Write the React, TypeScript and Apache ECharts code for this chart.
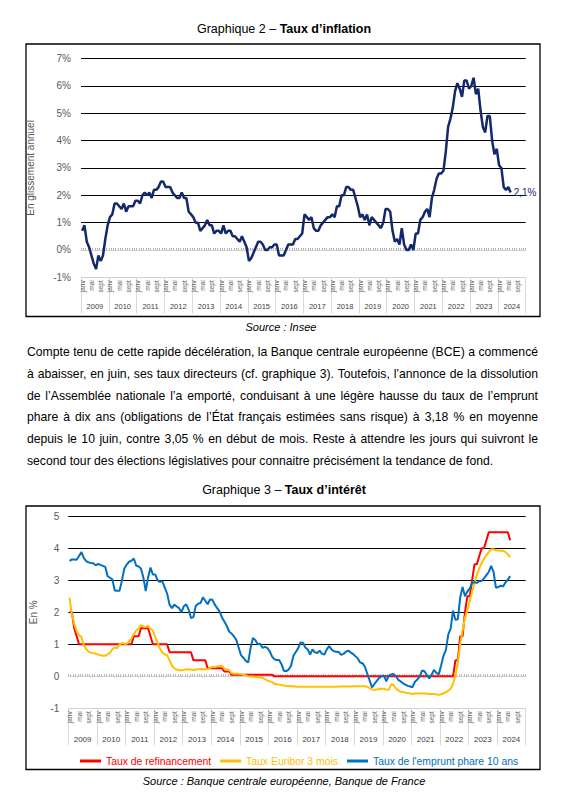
import React, { useEffect, useRef } from "react";
import * as echarts from "echarts";

const YEARS = ["2009","2010","2011","2012","2013","2014","2015","2016","2017","2018","2019","2020","2021","2022","2023","2024"];
const MONTHS = ["janv","févr","mars","avr","mai","juin","juil","août","sept","oct","nov","déc"];
const CATEGORIES = YEARS.flatMap((y) => MONTHS.map((m) => `${m} ${y}`));

// Graphique 2 – inflation (glissement annuel, %), janv 2009 – juin 2024
const INFLATION = [
  0.7, 0.9, 0.3, 0.1, -0.2, -0.5, -0.7, -0.2, -0.4, -0.2, 0.4, 0.9,
  1.2, 1.3, 1.7, 1.7, 1.6, 1.5, 1.7, 1.4, 1.6, 1.6, 1.6, 1.8,
  1.8, 1.7, 2.0, 2.1, 2.0, 2.1, 1.9, 2.2, 2.2, 2.3, 2.5, 2.5,
  2.3, 2.3, 2.3, 2.1, 2.0, 1.9, 1.9, 2.1, 1.9, 1.9, 1.4, 1.3,
  1.2, 1.0, 1.0, 0.7, 0.8, 0.9, 1.1, 0.9, 0.9, 0.6, 0.7, 0.7,
  0.6, 0.9, 0.6, 0.7, 0.7, 0.5, 0.5, 0.4, 0.3, 0.5, 0.3, 0.1,
  -0.4, -0.3, -0.1, 0.1, 0.3, 0.3, 0.2, 0.0, 0.0, 0.1, 0.1, 0.2,
  0.2, -0.2, -0.2, -0.2, 0.0, 0.2, 0.2, 0.2, 0.4, 0.4, 0.5, 0.6,
  1.3, 1.2, 1.1, 1.2, 0.8, 0.7, 0.7, 0.9, 1.0, 1.1, 1.2, 1.2,
  1.3, 1.2, 1.6, 1.6, 2.0, 2.0, 2.3, 2.3, 2.2, 2.2, 1.9, 1.6,
  1.2, 1.3, 1.1, 1.3, 0.9, 1.2, 1.1, 1.0, 0.9, 0.8, 1.0, 1.5,
  1.5, 1.4, 0.7, 0.3, 0.4, 0.2, 0.8, 0.2, 0.0, 0.0, 0.2, 0.0,
  0.6, 0.6, 1.1, 1.2, 1.4, 1.5, 1.2, 1.9, 2.2, 2.6, 2.8, 2.8,
  2.9, 3.6, 4.5, 4.8, 5.2, 5.8, 6.1, 5.9, 5.6, 6.2, 6.2, 5.9,
  6.0, 6.3, 5.7, 5.9, 5.1, 4.5, 4.3, 4.9, 4.9, 4.0, 3.5, 3.7,
  3.1, 3.0, 2.3, 2.2, 2.3, 2.1,
];

// Graphique 3 – taux d'intérêt (%), janv 2009 – juin 2024
const REFI = [
  2.0, 2.0, 1.5, 1.25, 1.0, 1.0, 1.0, 1.0, 1.0, 1.0, 1.0, 1.0,
  1.0, 1.0, 1.0, 1.0, 1.0, 1.0, 1.0, 1.0, 1.0, 1.0, 1.0, 1.0,
  1.0, 1.0, 1.0, 1.25, 1.25, 1.25, 1.5, 1.5, 1.5, 1.5, 1.25, 1.0,
  1.0, 1.0, 1.0, 1.0, 1.0, 1.0, 0.75, 0.75, 0.75, 0.75, 0.75, 0.75,
  0.75, 0.75, 0.75, 0.75, 0.5, 0.5, 0.5, 0.5, 0.5, 0.5, 0.25, 0.25,
  0.25, 0.25, 0.25, 0.25, 0.25, 0.15, 0.15, 0.15, 0.05, 0.05, 0.05, 0.05,
  0.05, 0.05, 0.05, 0.05, 0.05, 0.05, 0.05, 0.05, 0.05, 0.05, 0.05, 0.05,
  0.05, 0.05, 0, 0, 0, 0, 0, 0, 0, 0, 0, 0,
  0, 0, 0, 0, 0, 0, 0, 0, 0, 0, 0, 0,
  0, 0, 0, 0, 0, 0, 0, 0, 0, 0, 0, 0,
  0, 0, 0, 0, 0, 0, 0, 0, 0, 0, 0, 0,
  0, 0, 0, 0, 0, 0, 0, 0, 0, 0, 0, 0,
  0, 0, 0, 0, 0, 0, 0, 0, 0, 0, 0, 0,
  0, 0, 0, 0, 0, 0, 0.5, 0.5, 1.25, 1.25, 2.0, 2.5,
  2.5, 3.0, 3.5, 3.5, 3.75, 4.0, 4.0, 4.25, 4.5, 4.5, 4.5, 4.5,
  4.5, 4.5, 4.5, 4.5, 4.5, 4.25,
];

const EURIBOR = [
  2.46, 1.94, 1.64, 1.42, 1.28, 1.23, 0.97, 0.86, 0.77, 0.74, 0.72, 0.71,
  0.68, 0.66, 0.64, 0.64, 0.69, 0.73, 0.85, 0.90, 0.88, 1.00, 1.04, 1.02,
  1.02, 1.09, 1.18, 1.32, 1.43, 1.49, 1.60, 1.55, 1.54, 1.58, 1.48, 1.43,
  1.22, 1.05, 0.86, 0.74, 0.68, 0.66, 0.50, 0.33, 0.25, 0.21, 0.19, 0.19,
  0.20, 0.22, 0.21, 0.21, 0.20, 0.21, 0.22, 0.23, 0.22, 0.23, 0.22, 0.27,
  0.29, 0.29, 0.31, 0.33, 0.33, 0.24, 0.21, 0.19, 0.10, 0.08, 0.08, 0.08,
  0.06, 0.05, 0.03, 0.00, -0.01, -0.01, -0.02, -0.03, -0.04, -0.05, -0.09, -0.13,
  -0.15, -0.18, -0.23, -0.25, -0.26, -0.27, -0.29, -0.30, -0.30, -0.31, -0.31, -0.32,
  -0.33, -0.33, -0.33, -0.33, -0.33, -0.33, -0.33, -0.33, -0.33, -0.33, -0.33, -0.33,
  -0.33, -0.33, -0.33, -0.33, -0.33, -0.32, -0.32, -0.32, -0.32, -0.32, -0.32, -0.31,
  -0.31, -0.31, -0.31, -0.31, -0.31, -0.33, -0.37, -0.41, -0.42, -0.41, -0.40, -0.39,
  -0.39, -0.41, -0.42, -0.25, -0.27, -0.38, -0.44, -0.48, -0.49, -0.51, -0.52, -0.54,
  -0.55, -0.54, -0.54, -0.54, -0.54, -0.54, -0.54, -0.55, -0.55, -0.55, -0.57, -0.58,
  -0.56, -0.53, -0.50, -0.45, -0.39, -0.24, 0.04, 0.40, 1.01, 1.43, 1.83, 2.06,
  2.34, 2.64, 2.91, 3.17, 3.37, 3.54, 3.67, 3.78, 3.88, 3.97, 3.97, 3.94,
  3.93, 3.92, 3.92, 3.89, 3.81, 3.72,
];

const OAT10 = [
  3.61, 3.65, 3.65, 3.64, 3.76, 3.88, 3.70, 3.60, 3.56, 3.54, 3.53, 3.47,
  3.51, 3.48, 3.45, 3.42, 3.13, 3.08, 3.03, 2.68, 2.67, 2.67, 2.99, 3.36,
  3.49, 3.58, 3.61, 3.68, 3.46, 3.43, 3.37, 3.09, 2.66, 3.09, 3.40, 3.18,
  3.18, 3.00, 2.95, 2.97, 2.77, 2.58, 2.24, 2.13, 2.24, 2.18, 2.13, 2.00,
  2.19, 2.25, 2.09, 1.82, 1.85, 2.20, 2.27, 2.29, 2.47, 2.36, 2.25, 2.40,
  2.39, 2.24, 2.13, 2.03, 1.84, 1.71, 1.58, 1.40, 1.34, 1.25, 1.14, 0.90,
  0.66, 0.58, 0.48, 0.43, 0.88, 1.20, 1.13, 1.01, 1.02, 0.89, 0.92, 0.89,
  0.79, 0.62, 0.53, 0.51, 0.51, 0.38, 0.17, 0.16, 0.21, 0.33, 0.64, 0.76,
  0.88, 1.06, 1.05, 0.90, 0.84, 0.68, 0.84, 0.75, 0.73, 0.80, 0.70, 0.68,
  0.84, 0.94, 0.84, 0.78, 0.77, 0.76, 0.67, 0.70, 0.77, 0.80, 0.75, 0.70,
  0.63, 0.56, 0.43, 0.41, 0.30, 0.08, -0.13, -0.35, -0.24, -0.14, -0.05, 0.01,
  0.02, -0.16, 0.02, 0.06, 0.07, 0.01, -0.11, -0.16, -0.22, -0.26, -0.30, -0.32,
  -0.34, -0.17, -0.10, -0.01, 0.18, 0.16, 0.04, -0.07, 0.05, 0.20, 0.11, 0.06,
  0.34, 0.65, 0.82, 1.31, 1.49, 2.05, 1.77, 1.78, 2.46, 2.79, 2.50, 2.65,
  2.74, 2.92, 2.94, 2.92, 2.97, 2.98, 3.06, 3.16, 3.26, 3.45, 3.26, 2.77,
  2.79, 2.83, 2.81, 2.93, 3.02, 3.13,
];

const Y1_TICKS = [-1, 7, 1];
const Y2_TICKS = [-1, 5, 1];

const PARAGRAPH = [
  "Compte tenu de cette rapide décélération, la Banque centrale européenne (BCE) a commencé",
  "à abaisser, en juin, ses taux directeurs (cf. graphique 3). Toutefois, l’annonce de la dissolution",
  "de l’Assemblée nationale l’a emporté, conduisant à une légère hausse du taux de l’emprunt",
  "phare à dix ans (obligations de l’État français estimées sans risque) à 3,18 % en moyenne",
  "depuis le 10 juin, contre 3,05 % en début de mois. Reste à attendre les jours qui suivront le",
  "second tour des élections législatives pour connaitre précisément la tendance de fond.",
];

const FONT = "'Liberation Sans', Arial, sans-serif";
const GRAY = "#595959";

function monthAxis(gridIndex: number) {
  return {
    type: "category",
    gridIndex,
    data: CATEGORIES,
    boundaryGap: true,
    axisLine: { show: true, lineStyle: { color: "#d0d0d0", width: 1 } },
    axisTick: { show: true, interval: 0, inside: true, length: 2, lineStyle: { color: "#b0b0b0" } },
    axisLabel: {
      interval: (i: number) => i % 4 === 0,
      rotate: 90,
      fontSize: 6.5,
      margin: 3,
      color: GRAY,
      fontFamily: FONT,
      formatter: (v: string) => v.split(" ")[0],
    },
    splitLine: { show: false },
  };
}

function yearAxis(gridIndex: number, tickLen: number, margin: number, fs: number) {
  return {
    type: "category",
    gridIndex,
    position: "bottom",
    data: YEARS,
    boundaryGap: true,
    axisLine: { show: false },
    axisTick: { show: true, interval: 0, length: tickLen, lineStyle: { color: "#d9d9d9" } },
    axisLabel: { interval: 0, margin, fontSize: fs, color: "#404040", fontFamily: FONT },
    splitLine: { show: false },
  };
}

function splitColors(n: number) {
  const arr = ["#d0d0d0"];
  for (let i = 0; i < n; i++) arr.push("#000000");
  return arr;
}

export default function App() {
  const ref = useRef<HTMLDivElement>(null);

  useEffect(() => {
    if (!ref.current) return;
    const chart = echarts.init(ref.current, null, { renderer: "svg" });
    const option: any = {
      animation: false,
      backgroundColor: "#ffffff",
      textStyle: { fontFamily: FONT },
      grid: [
        { left: 81, right: 38.3, top: 58.6, height: 218.7 },
        { left: 68.3, right: 38.3, top: 516.3, height: 192 },
      ],
      xAxis: [
        monthAxis(0),
        yearAxis(0, 36, 25, 7.5),
        monthAxis(1),
        yearAxis(1, 37, 27, 8),
      ],
      yAxis: [
        {
          type: "value",
          gridIndex: 0,
          min: Y1_TICKS[0],
          max: Y1_TICKS[1],
          interval: Y1_TICKS[2],
          axisLine: { show: false },
          axisTick: { show: false },
          axisLabel: { formatter: "{value}%", fontSize: 10, color: GRAY, margin: 10, fontFamily: FONT },
          splitLine: { show: true, lineStyle: { color: splitColors(8), width: 1 } },
          name: "En glissement annuel",
          nameLocation: "middle",
          nameGap: 46,
          nameTextStyle: { fontSize: 10, color: GRAY, fontFamily: FONT },
        },
        {
          type: "value",
          gridIndex: 1,
          min: Y2_TICKS[0],
          max: Y2_TICKS[1],
          interval: Y2_TICKS[2],
          axisLine: { show: false },
          axisTick: { show: false },
          axisLabel: { fontSize: 10, color: GRAY, margin: 9, fontFamily: FONT },
          splitLine: { show: true, lineStyle: { color: splitColors(6), width: 1 } },
          name: "En %",
          nameLocation: "middle",
          nameGap: 30,
          nameTextStyle: { fontSize: 10, color: GRAY, fontFamily: FONT },
        },
      ],
      legend: {
        left: 75,
        top: 751,
        icon: "rect",
        itemWidth: 21,
        itemHeight: 3,
        itemGap: 9,
        data: [
          { name: "Taux de refinancement", textStyle: { color: "#ff0000" } },
          { name: "Taux Euribor 3 mois", textStyle: { color: "#ffc000" } },
          { name: "Taux de l'emprunt phare 10 ans", textStyle: { color: "#0070c0" } },
        ],
        textStyle: { fontSize: 10.4, fontFamily: FONT },
      },
      series: [
        {
          name: "Inflation",
          type: "line",
          xAxisIndex: 0,
          yAxisIndex: 0,
          data: INFLATION,
          showSymbol: false,
          lineStyle: { color: "#14296b", width: 2.5 },
          itemStyle: { color: "#14296b" },
          endLabel: {
            show: true,
            formatter: (p: any) => String(p.value).replace(".", ",") + "%",
            color: "#14296b",
            fontSize: 10,
            distance: 3,
            fontFamily: FONT,
          },
        },
        {
          name: "Taux de refinancement",
          type: "line",
          xAxisIndex: 2,
          yAxisIndex: 1,
          data: REFI,
          showSymbol: false,
          lineStyle: { color: "#ff0000", width: 2 },
          itemStyle: { color: "#ff0000" },
        },
        {
          name: "Taux Euribor 3 mois",
          type: "line",
          xAxisIndex: 2,
          yAxisIndex: 1,
          data: EURIBOR,
          showSymbol: false,
          lineStyle: { color: "#ffc000", width: 2 },
          itemStyle: { color: "#ffc000" },
        },
        {
          name: "Taux de l'emprunt phare 10 ans",
          type: "line",
          xAxisIndex: 2,
          yAxisIndex: 1,
          data: OAT10,
          showSymbol: false,
          lineStyle: { color: "#0070c0", width: 2 },
          itemStyle: { color: "#0070c0" },
        },
      ],
      graphic: [
        {
          type: "rect",
          shape: { x: 26, y: 44, width: 514, height: 272.5 },
          style: { fill: "none", stroke: "#000", lineWidth: 1.3 },
          silent: true,
        },
        {
          type: "rect",
          shape: { x: 26, y: 506, width: 514, height: 263.5 },
          style: { fill: "none", stroke: "#000", lineWidth: 1.3 },
          silent: true,
        },
        {
          type: "text",
          x: 284,
          y: 29,
          style: {
            text: "{a|Graphique 2 – }{b|Taux d’inflation}",
            align: "center",
            verticalAlign: "middle",
            rich: {
              a: { fontSize: 12.5, fontFamily: FONT, fill: "#000" },
              b: { fontSize: 12.5, fontFamily: FONT, fontWeight: "bold", fill: "#000" },
            },
          },
        },
        {
          type: "text",
          x: 284,
          y: 490,
          style: {
            text: "{a|Graphique 3 – }{b|Taux d’intérêt}",
            align: "center",
            verticalAlign: "middle",
            rich: {
              a: { fontSize: 12.5, fontFamily: FONT, fill: "#000" },
              b: { fontSize: 12.5, fontFamily: FONT, fontWeight: "bold", fill: "#000" },
            },
          },
        },
        {
          type: "text",
          x: 281,
          y: 327,
          style: {
            text: "Source : Insee",
            align: "center",
            verticalAlign: "middle",
            fontSize: 11,
            fontStyle: "italic",
            fontFamily: FONT,
            fill: "#000",
          },
        },
        {
          type: "text",
          x: 284,
          y: 781,
          style: {
            text: "Source : Banque centrale européenne, Banque de France",
            align: "center",
            verticalAlign: "middle",
            fontSize: 11,
            fontStyle: "italic",
            fontFamily: FONT,
            fill: "#000",
          },
        },
      ],
    };
    chart.setOption(option);
    return () => chart.dispose();
  }, []);

  return (
    <div style={{ position: "absolute", left: 0, top: 0, width: 564, height: 797, background: "#fff" }}>
      <div ref={ref} style={{ position: "absolute", left: 0, top: 0, width: 564, height: 797 }} />
      {PARAGRAPH.map((line, i) => (
        <div
          key={i}
          style={{
            position: "absolute",
            left: 27,
            top: 342 + i * 21.8,
            width: 511,
            height: 21.8,
            lineHeight: "21.8px",
            fontFamily: FONT,
            fontSize: 12.2,
            color: "#000",
            textAlign: "justify",
            textAlignLast: i < PARAGRAPH.length - 1 ? "justify" : "left",
            whiteSpace: "nowrap",
          }}
        >
          {line}
        </div>
      ))}
    </div>
  );
}
